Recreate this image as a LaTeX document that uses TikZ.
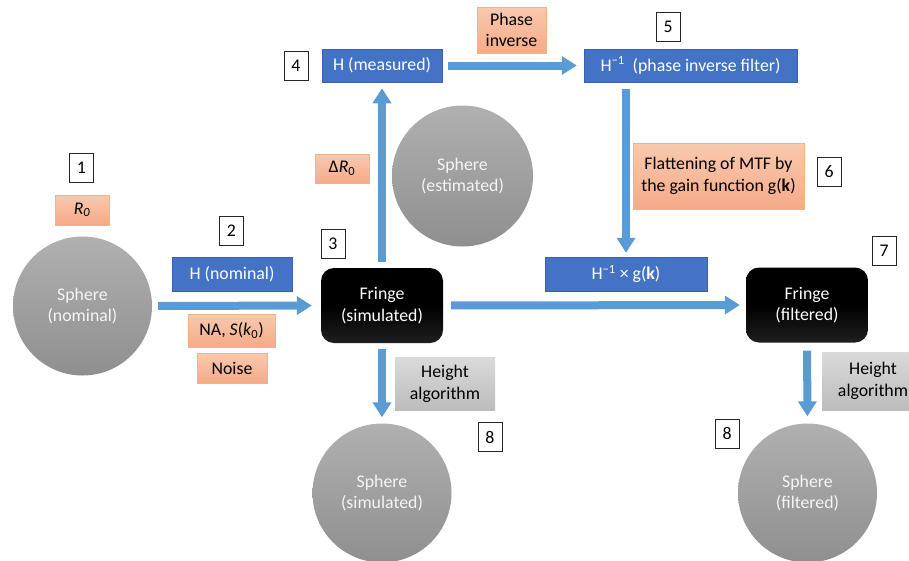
\documentclass[tikz,border=0pt]{standalone}
\usepackage{fontspec}
\setmainfont{Carlito}
\usetikzlibrary{arrows.meta}
\definecolor{bboxc}{HTML}{4472C4}
\definecolor{bboxd}{HTML}{3A62AC}
\definecolor{flowc}{HTML}{5B9BD5}
\definecolor{orT}{HTML}{F9C9AE}
\definecolor{orB}{HTML}{F5AA88}
\definecolor{orD}{HTML}{F4B183}
\definecolor{sphT}{HTML}{B0B0B0}
\definecolor{sphB}{HTML}{8F8F8F}
\definecolor{grT}{HTML}{DADADA}
\definecolor{grB}{HTML}{BCBCBC}
\begin{document}
\begin{tikzpicture}[x=1pt,y=-1pt,
  font=\fontsize{17.8}{21.7}\selectfont,
  sphere/.style={circle, minimum size=139pt, inner sep=0pt, top color=sphT, bottom color=sphB, draw=none, text=white!96!black, align=center},
  bluebox/.style={rectangle, fill=bboxc, draw=bboxd, line width=0.5pt, text=white, inner sep=0pt, minimum height=33pt},
  orbox/.style={rectangle, top color=orT, bottom color=orB, draw=orD, line width=0.5pt, text=black, align=center, inner sep=0pt},
  numbox/.style={rectangle, draw=black!85, fill=white, line width=0.8pt, minimum width=24pt, minimum height=29pt, inner sep=0pt},
  fringe/.style={rectangle, rounded corners=13pt, top color=black, bottom color=black!88!white, middle color=black, text=white, align=center, minimum width=122pt, minimum height=75pt, inner sep=0pt},
  grbox/.style={rectangle, top color=grT, bottom color=grB, draw=none, text=black, align=center, inner sep=0pt},
  flow/.style={draw=flowc, line width=8pt, -{Triangle[length=15pt,width=18pt]}}
]
\clip (0,0) rectangle (909,560);
% spheres
\node[sphere] (snom) at (82.5,306) {Sphere\\(nominal)};
\node[sphere, minimum size=141pt] (sest) at (462.5,176) {Sphere\\(estimated)};
\node[sphere] (ssim) at (382,493) {Sphere\\(simulated)};
\node[sphere] (sfil) at (807.5,493) {Sphere\\(filtered)};
% labels and boxes
\node[numbox] (n1) at (81.5,168) {1};
\node[orbox, minimum width=54pt, minimum height=30pt] (r0) at (82,210) {\textit{R\textsubscript{0}}};
\node[numbox] (n2) at (231.5,230.5) {2};
\node[bluebox, minimum width=120pt, minimum height=34pt] (hnom) at (232,274) {H (nominal)};
\node[orbox, minimum width=87pt, minimum height=33pt] (na) at (231.5,330.5) {NA, \textit{S}(\textit{k}\textsubscript{0})};
\node[orbox, minimum width=70pt, minimum height=30pt] (noise) at (232,368) {Noise};
\node[numbox] (n3) at (333,244) {3};
\node[fringe] (fsim) at (382,305.5) {Fringe\\(simulated)};
\node[orbox, minimum width=54pt, minimum height=29pt] (dr) at (342,168.5) {Δ\textit{R}\textsubscript{0}};
\node[numbox] (n4) at (296,66) {4};
\node[bluebox, minimum width=120pt] (hmeas) at (382,65.5) {H (measured)};
\node[orbox, minimum width=69pt, minimum height=46pt] (pinv) at (511.5,30) {Phase\\inverse};
\node[numbox] (n5) at (668,26.5) {5};
\node[bluebox, minimum width=213pt] (hinv) at (690.5,65.5) {H\textsuperscript{−1}\ \ (phase inverse filter)};
\node[orbox, minimum width=171pt, minimum height=66pt] (flat) at (718.5,176) {Flattening of MTF by\\the gain function g(\textbf{k})};
\node[numbox] (n6) at (829,171.5) {6};
\node[bluebox, minimum width=162pt, minimum height=34pt] (hxg) at (626,274) {H\textsuperscript{−1} × g(\textbf{k})};
\node[numbox] (n7) at (884,250.5) {7};
\node[fringe] (ffil) at (807,305) {Fringe\\(filtered)};
\node[grbox, minimum width=100pt, minimum height=53pt] (ha1) at (445,384) {Height\\algorithm};
\node[numbox] (n8a) at (490,437) {8};
\node[grbox, minimum width=102pt, minimum height=58pt] (ha2) at (873,381) {Height\\algorithm};
\node[numbox] (n8b) at (727,433.5) {8};
% connectors
\draw[flow, shorten <=6pt, shorten >=9pt] (snom.east) -- (fsim.west);
\draw[flow, shorten <=8pt, shorten >=6pt] (fsim.east) -- (ffil.west);
\draw[flow, shorten <=6pt, shorten >=6pt] (fsim.north) -- (hmeas.south);
\draw[flow, shorten <=6pt, shorten >=7pt] (hmeas.east) -- (hinv.west);
\draw[flow, shorten <=7pt, shorten >=4pt] (hinv.south -| hxg.north) -- (hxg.north);
\draw[flow, shorten <=6pt, shorten >=6pt] (fsim.south) -- (ssim.north);
\draw[flow, shorten <=8pt, shorten >=7pt] (ffil.south) -- (sfil.north);
\end{tikzpicture}
\end{document}
